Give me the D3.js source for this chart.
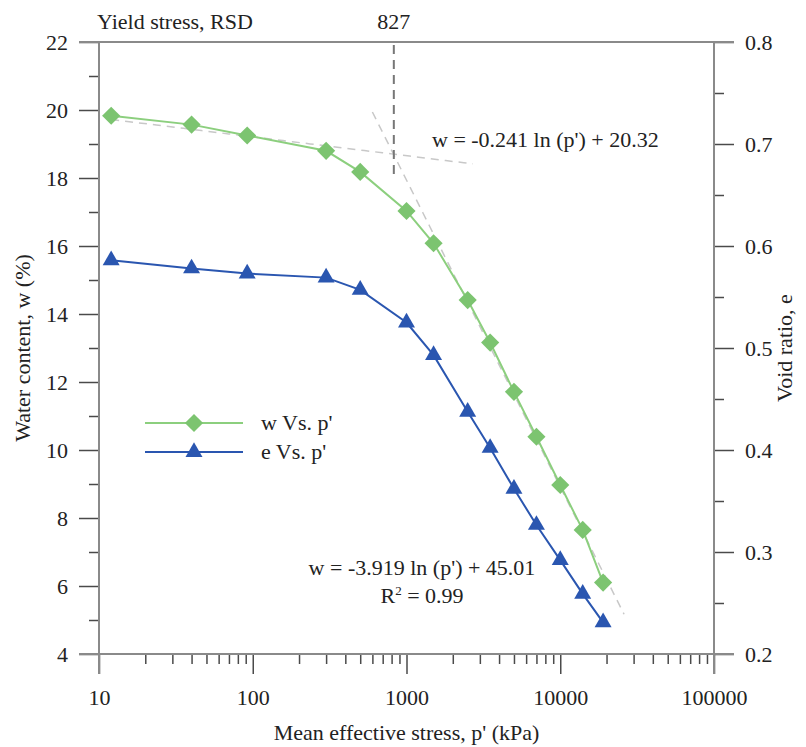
<!DOCTYPE html>
<html>
<head>
<meta charset="utf-8">
<script src="https://cdn.jsdelivr.net/npm/d3@7"></script>
<style>
  body { margin: 0; background: #fff; }
  svg text { font-family: "Liberation Serif", "Times New Roman", serif; fill: #222; }
</style>
</head>
<body>
<svg width="806" height="747"></svg>
<script>

// data
let pressure = [12, 40, 92, 300, 500, 1000, 1500, 2500, 3500, 5000, 7000, 10000, 14000, 19000]
let waterContent = [19.83, 19.57, 19.25, 18.8, 18.18, 17.03, 16.08, 14.41, 13.16, 11.71, 10.39, 8.97, 7.65, 6.1]
let voidRatio = [0.586, 0.578, 0.573, 0.569, 0.557, 0.525, 0.493, 0.4375, 0.402, 0.362, 0.3265, 0.292, 0.259, 0.231]

let xTicks = [10, 100, 1000, 10000, 100000]
let wTicks = [4, 6, 8, 10, 12, 14, 16, 18, 20, 22]
let eTicks = [0.2, 0.3, 0.4, 0.5, 0.6, 0.7, 0.8]

// fitted lines w = a ln(p') + b, and the p' range they are drawn over
let fitA = [-0.241, -3.919]
let fitB = [20.32, 45.01]
let fitFrom = [12, 600]
let fitTo = [2700, 26000]
let yieldStress = 827

let green = "#7cc470", greenLine = "#8ccf7e"
let blue = "#2a56b0"

let svg = d3.select("svg")

let x = d3.scaleLog().domain([10, 100000]).range([99, 714])
let yW = d3.scaleLinear().domain([4, 22]).range([654, 42])
let yE = d3.scaleLinear().domain([0.2, 0.8]).range([654, 42])

let major = 20, minor = 10

// minor ticks
let xMinor = []
xTicks.slice(0, -1).forEach(function(d){
  for (let k = 2; k < 10; k++) xMinor.push(d * k)
})
let wMinor = d3.range(5, 22, 2)
let eMinor = [0.25, 0.35, 0.45, 0.55, 0.65, 0.75]

let tickColor = "#4a4a4a", axisColor = "#8a8a8a"

function styleAxis(g){
  g.select(".domain").remove()
  g.selectAll(".tick line").attr("stroke", tickColor).attr("stroke-width", 1.5)
  g.selectAll(".tick text")
    .style("font-size", "22px")
    .style("font-family", '"Liberation Serif", serif')
    .attr("fill", "#222")
}

// bottom
svg.append("g").attr("transform", "translate(0," + yW(4) + ")")
  .call(d3.axisBottom(x).tickValues(xTicks).tickSize(major).tickPadding(15).tickFormat(d3.format("d")))
  .call(styleAxis)
svg.append("g").attr("transform", "translate(0," + yW(4) + ")")
  .call(d3.axisBottom(x).tickValues(xMinor).tickSize(minor).tickFormat(""))
  .call(styleAxis)

// left
svg.append("g").attr("transform", "translate(" + x(10) + ",0)")
  .call(d3.axisLeft(yW).tickValues(wTicks).tickSize(major).tickPadding(11).tickFormat(d3.format("d")))
  .call(styleAxis)
svg.append("g").attr("transform", "translate(" + x(10) + ",0)")
  .call(d3.axisLeft(yW).tickValues(wMinor).tickSize(minor).tickFormat(""))
  .call(styleAxis)

// right
svg.append("g").attr("transform", "translate(" + x(100000) + ",0)")
  .call(d3.axisRight(yE).tickValues(eTicks).tickSize(major).tickPadding(11).tickFormat(d3.format(".1f")))
  .call(styleAxis)
svg.append("g").attr("transform", "translate(" + x(100000) + ",0)")
  .call(d3.axisRight(yE).tickValues(eMinor).tickSize(minor).tickFormat(""))
  .call(styleAxis)

// frame lines
let frame = [
  [x(10) - major, yW(22), x(100000) + major, yW(22)],
  [x(10) - major, yW(4), x(100000) + major, yW(4)],
  [x(10), yW(22), x(10), yW(4) + major],
  [x(100000), yW(22), x(100000), yW(4) + major]
]
svg.selectAll("line.frame")
  .data(frame).enter()
  .append("line")
    .attr("class", "frame")
    .attr("x1", function(d){ return d[0] })
    .attr("y1", function(d){ return d[1] })
    .attr("x2", function(d){ return d[2] })
    .attr("y2", function(d){ return d[3] })
    .attr("stroke", axisColor)
    .attr("stroke-width", 2)

// fitted trend lines
fitA.forEach(function(a, i){
  let pts = d3.range(0, 41).map(function(k){
    let p = Math.exp(Math.log(fitFrom[i]) + (Math.log(fitTo[i]) - Math.log(fitFrom[i])) * k / 40)
    return [p, a * Math.log(p) + fitB[i]]
  })
  svg.append("path")
    .attr("d", d3.line().x(function(d){ return x(d[0]) }).y(function(d){ return yW(d[1]) })(pts))
    .attr("fill", "none")
    .attr("stroke", "#c8c8c8")
    .attr("stroke-width", 1.5)
    .attr("stroke-dasharray", "8,6")
})

// yield stress marker
svg.append("line")
  .attr("x1", x(yieldStress)).attr("x2", x(yieldStress))
  .attr("y1", yW(22) + 3).attr("y2", yW(18))
  .attr("stroke", "#777")
  .attr("stroke-width", 2)
  .attr("stroke-dasharray", "9,6")

// series lines
let wLine = d3.line().x(function(d, i){ return x(pressure[i]) }).y(function(d){ return yW(d) })
let eLine = d3.line().x(function(d, i){ return x(pressure[i]) }).y(function(d){ return yE(d) })

svg.append("path").attr("d", wLine(waterContent))
  .attr("fill", "none").attr("stroke", greenLine).attr("stroke-width", 2)
svg.append("path").attr("d", eLine(voidRatio))
  .attr("fill", "none").attr("stroke", blue).attr("stroke-width", 2)

let diamond = d3.symbol().type(d3.symbolSquare).size(165)
let triangle = d3.symbol().type(d3.symbolTriangle).size(125)

svg.selectAll("path.wpt")
  .data(waterContent).enter()
  .append("path")
    .attr("class", "wpt")
    .attr("d", diamond)
    .attr("transform", function(d, i){ return "translate(" + x(pressure[i]) + "," + yW(d) + ") rotate(45)" })
    .attr("fill", green)

svg.selectAll("path.ept")
  .data(voidRatio).enter()
  .append("path")
    .attr("class", "ept")
    .attr("d", triangle)
    .attr("transform", function(d, i){ return "translate(" + x(pressure[i]) + "," + yE(d) + ")" })
    .attr("fill", blue)

// legend
let legend = [
  { label: "w Vs. p'", color: greenLine, fill: green, sym: diamond, rot: 45, y: 423 },
  { label: "e Vs. p'", color: blue, fill: blue, sym: triangle, rot: 0, y: 452 }
]
let lg = svg.selectAll("g.legend").data(legend).enter()
  .append("g").attr("class", "legend")
  .attr("transform", function(d){ return "translate(145," + d.y + ")" })
lg.append("line").attr("x1", 0).attr("x2", 98)
  .attr("stroke", function(d){ return d.color }).attr("stroke-width", 2)
lg.append("path")
  .attr("d", function(d){ return d.sym() })
  .attr("transform", function(d){ return "translate(49,0) rotate(" + d.rot + ")" })
  .attr("fill", function(d){ return d.fill })
lg.append("text").attr("x", 116).attr("y", 7)
  .style("font-size", "22px")
  .text(function(d){ return d.label })

// annotations
svg.append("text").attr("x", 97).attr("y", 29).style("font-size", "22px").text("Yield stress, RSD")
svg.append("text").attr("x", x(yieldStress)).attr("y", 29).attr("text-anchor", "middle")
  .style("font-size", "22px").text(yieldStress)

svg.append("text").attr("x", 432).attr("y", 147).style("font-size", "22px")
  .text("w = " + fitA[0] + " ln (p') + " + fitB[0])

svg.append("text").attr("x", 422).attr("y", 575).attr("text-anchor", "middle").style("font-size", "22px")
  .text("w = " + fitA[1] + " ln (p') + " + fitB[1])
let r2 = svg.append("text").attr("x", 422).attr("y", 603).attr("text-anchor", "middle").style("font-size", "22px")
r2.append("tspan").text("R")
r2.append("tspan").attr("dy", -8).style("font-size", "13px").text("2")
r2.append("tspan").attr("dy", 8).text(" = 0.99")

// axis titles
svg.append("text")
  .attr("x", (x.range()[0] + x.range()[1]) / 2).attr("y", 740)
  .attr("text-anchor", "middle").style("font-size", "22px")
  .text("Mean effective stress, p' (kPa)")

svg.append("text")
  .attr("transform", "translate(30," + (yW.range()[0] + yW.range()[1]) / 2 + ") rotate(-90)")
  .attr("text-anchor", "middle").style("font-size", "22px")
  .text("Water content, w (%)")

svg.append("text")
  .attr("transform", "translate(792," + (yE.range()[0] + yE.range()[1]) / 2 + ") rotate(-90)")
  .attr("text-anchor", "middle").style("font-size", "22px")
  .text("Void ratio, e")

</script>
</body>
</html>
